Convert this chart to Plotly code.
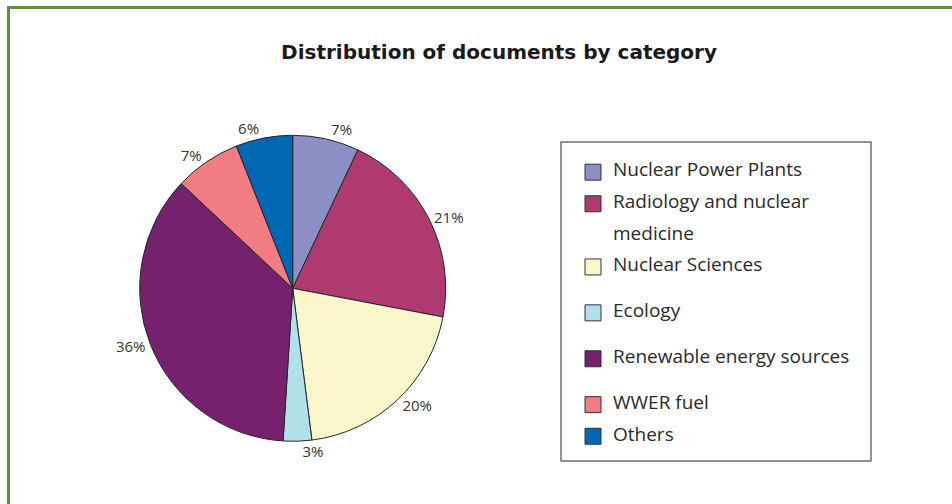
import plotly.graph_objects as go

# ---- data ----
categories = [
    "Nuclear Power Plants",
    "Radiology and nuclear medicine",
    "Nuclear Sciences",
    "Ecology",
    "Renewable energy sources",
    "WWER fuel",
    "Others",
]
shares = [7, 21, 20, 3, 36, 7, 6]
colors = ["#8C8FC4", "#AE3A6F", "#F8F6CA", "#B1E0EA", "#76216D", "#F17C84", "#0068B2"]
# legend rows: (text, colour or None for a continuation line, number of text lines the row occupies)
legend_rows = [
    ("Nuclear Power Plants", colors[0], 2),
    ("Radiology and nuclear", colors[1], 2),
    ("medicine", None, 2),
    ("Nuclear Sciences", colors[2], 3),
    ("Ecology", colors[3], 3),
    ("Renewable energy sources", colors[4], 3),
    ("WWER fuel", colors[5], 2),
    ("Others", colors[6], 1),
]
title_text = "Distribution of documents by category"

W, H = 952, 504

fig = go.Figure()

fig.add_trace(go.Pie(
    labels=categories,
    values=shares,
    sort=False,
    direction="clockwise",
    rotation=0,
    marker=dict(colors=colors, line=dict(color="#262626", width=1)),
    texttemplate="%{value}%",
    textposition="outside",
    textfont=dict(family="Open Sans", size=15, color="#333333"),
    showlegend=False,
    hoverinfo="label+percent",
    domain=dict(x=[(292.7 - 153) / W, (292.7 + 153) / W],
                y=[(504 - 288.3 - 153) / H, (504 - 288.3 + 153) / H]),
))

for text, c, n in legend_rows:
    label = f"<span style='font-size:19px'>{text}</span>" + "<br>\u00a0" * (n - 1)
    if c is None:
        mk = dict(symbol="square", size=16, color="rgba(0,0,0,0)", line=dict(width=0))
    else:
        mk = dict(symbol="square", size=16, color=c, line=dict(color="#333333", width=1))
    fig.add_trace(go.Scatter(
        x=[None], y=[None], mode="markers", name=label, marker=mk,
        showlegend=True, hoverinfo="skip",
    ))

fig.update_layout(
    width=W, height=H,
    margin=dict(l=0, r=0, t=0, b=0),
    paper_bgcolor="white", plot_bgcolor="white",
    xaxis=dict(visible=False), yaxis=dict(visible=False),
    title=dict(
        text=title_text,
        font=dict(family="DejaVu Sans", size=20, color="#1a1a1a", weight="bold"),
        x=499 / W, xanchor="center", y=1 - 52 / H, yanchor="middle",
        xref="container", yref="container",
    ),
    legend=dict(
        x=573 / W, y=1 - 158.5 / H, xanchor="left", yanchor="top",
        font=dict(family="Open Sans", size=11, color="#2a2a2a"),
        borderwidth=0, bgcolor="rgba(0,0,0,0)",
        valign="top", tracegroupgap=0,
    ),
    shapes=[
        dict(type="rect", xref="paper", yref="paper",
             x0=561 / W, x1=871 / W, y0=1 - 461 / H, y1=1 - 142 / H,
             line=dict(color="#707070", width=1.5), layer="below"),
        dict(type="rect", xref="paper", yref="paper",
             x0=8.5 / W, x1=1.1, y0=-0.1, y1=1 - 7.5 / H,
             line=dict(color="#5F8F3F", width=3), layer="above"),
    ],
)

fig.write_html("out.html", config={"displayModeBar": False},
               post_script="document.body.style.margin='0';")
